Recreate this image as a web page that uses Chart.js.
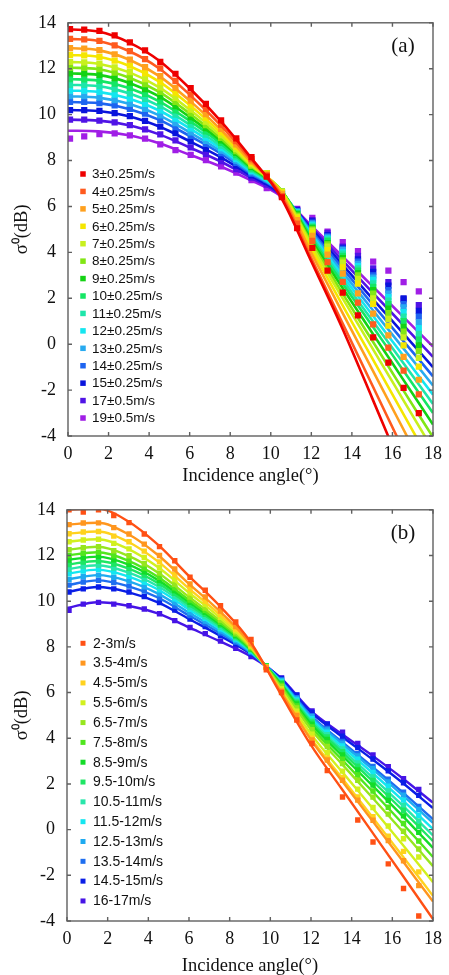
<!DOCTYPE html>
<html lang="en">
<head>
<meta charset="UTF-8">
<title>Sigma0 vs incidence angle</title>
<script src="https://cdn.jsdelivr.net/npm/chart.js"></script>
<style>
  body { margin: 0; background: #fff; }
  canvas { position: absolute; left: 0; }
  #chartA { top: 0; }
  #chartB { top: 487px; }
</style>
</head>
<body>
<canvas id="chartA" width="449" height="487"></canvas>
<canvas id="chartB" width="449" height="488"></canvas>
<script>
// incidence angles of the measured bins and of the fitted-curve knots
const obsAngles = [0.1, 0.8, 1.55, 2.3, 3.05, 3.8, 4.55, 5.3, 6.05, 6.8, 7.55, 8.3, 9.05, 9.8, 10.55, 11.3, 12.05, 12.8, 13.55, 14.3, 15.05, 15.8, 16.55, 17.3];
const fitAngles = [0, 1.5, 3, 4.5, 6, 7.5, 9, 10.5, 12, 13.5, 15, 16.5, 18];
const xTicks = [0, 2, 4, 6, 8, 10, 12, 14, 16, 18];
const yTicks = [-4, -2, 0, 2, 4, 6, 8, 10, 12, 14];

// panel (a)
const labelsA = ['3\u00b10.25m/s', '4\u00b10.25m/s', '5\u00b10.25m/s', '6\u00b10.25m/s', '7\u00b10.25m/s', '8\u00b10.25m/s', '9\u00b10.25m/s', '10\u00b10.25m/s', '11\u00b10.25m/s', '12\u00b10.25m/s', '13\u00b10.25m/s', '14\u00b10.25m/s', '15\u00b10.25m/s', '17\u00b10.5m/s', '19\u00b10.5m/s'];
const colorsA = ['#ee0000', '#ff5a1e', '#ffa01e', '#f5e600', '#c8f01e', '#82e614', '#14d214', '#14e664', '#1ee6aa', '#14e6f0', '#28aaf0', '#1e64f0', '#0a14dc', '#5014e6', '#a01ee6'];

const a3obs = [13.72, 13.7, 13.65, 13.45, 13.15, 12.8, 12.3, 11.78, 11.15, 10.47, 9.75, 8.97, 8.15, 7.3, 6.4, 5.05, 4.2, 3.2, 2.25, 1.25, 0.3, -0.8, -1.9, -3.0];
const a3fit = [13.72, 13.62, 13.15, 12.35, 11.15, 9.75, 8.15, 6.4, 3.6, 0.75, -2.35, -5.5, -8.6];
const a4obs = [13.3, 13.28, 13.21, 13.02, 12.77, 12.42, 12.01, 11.47, 10.87, 10.25, 9.56, 8.84, 8.06, 7.35, 6.45, 5.25, 4.5, 3.57, 2.71, 1.81, 0.86, -0.15, -1.15, -2.19];
const a4fit = [13.3, 13.21, 12.77, 12.01, 10.87, 9.56, 8.06, 6.5, 3.74, 0.98, -1.78, -4.54, -7.3];
const a5obs = [12.9, 12.88, 12.81, 12.63, 12.4, 12.07, 11.68, 11.17, 10.61, 10.02, 9.38, 8.7, 7.96, 7.4, 6.55, 5.4, 4.72, 3.9, 3.07, 2.21, 1.33, 0.38, -0.55, -1.55];
const a5fit = [12.9, 12.81, 12.4, 11.68, 10.61, 9.38, 7.96, 6.6, 3.98, 1.43, -1.1, -3.64, -6.2];
const a6obs = [12.6, 12.58, 12.52, 12.35, 12.13, 11.81, 11.44, 10.96, 10.42, 9.86, 9.24, 8.6, 7.9, 7.42, 6.6, 5.5, 4.85, 4.1, 3.35, 2.64, 1.75, 0.81, -0.05, -0.98];
const a6fit = [12.6, 12.52, 12.13, 11.44, 10.42, 9.24, 7.9, 6.65, 4.16, 1.76, -0.61, -2.98, -5.35];
const a7obs = [12.3, 12.28, 12.22, 12.06, 11.85, 11.55, 11.19, 10.73, 10.22, 9.69, 9.11, 8.5, 7.83, 7.45, 6.65, 5.55, 4.95, 4.25, 3.55, 2.85, 2.0, 1.1, 0.3, -0.6];
const a7fit = [12.3, 12.22, 11.85, 11.19, 10.22, 9.11, 7.83, 6.7, 4.32, 2.06, -0.16, -2.38, -4.6];
const a8obs = [12.05, 12.04, 11.98, 11.83, 11.62, 11.33, 10.99, 10.55, 10.05, 9.54, 8.99, 8.41, 7.77, 7.45, 6.65, 5.6, 5.0, 4.35, 3.65, 3.0, 2.2, 1.35, 0.55, -0.3];
const a8fit = [12.05, 11.98, 11.62, 10.99, 10.05, 8.99, 7.77, 6.72, 4.43, 2.27, 0.16, -1.96, -4.05];
const a9obs = [11.8, 11.79, 11.73, 11.59, 11.39, 11.11, 10.79, 10.37, 9.89, 9.41, 8.88, 8.33, 7.72, 7.42, 6.65, 5.65, 5.05, 4.4, 3.75, 3.1, 2.35, 1.55, 0.75, -0.05];
const a9fit = [11.8, 11.73, 11.39, 10.79, 9.89, 8.88, 7.72, 6.72, 4.54, 2.5, 0.5, -1.5, -3.5];
const a10obs = [11.55, 11.54, 11.48, 11.35, 11.16, 10.9, 10.58, 10.18, 9.73, 9.27, 8.77, 8.24, 7.66, 7.38, 6.62, 5.7, 5.1, 4.5, 3.85, 3.2, 2.5, 1.75, 1.0, 0.2];
const a10fit = [11.55, 11.48, 11.16, 10.58, 9.73, 8.77, 7.66, 6.7, 4.64, 2.7, 0.8, -1.1, -3.0];
const a11obs = [11.3, 11.3, 11.24, 11.11, 10.93, 10.68, 10.38, 10.0, 9.56, 9.13, 8.65, 8.15, 7.6, 7.33, 6.6, 5.72, 5.15, 4.55, 3.95, 3.3, 2.65, 1.9, 1.2, 0.45];
const a11fit = [11.3, 11.24, 10.93, 10.38, 9.56, 8.65, 7.6, 6.68, 4.71, 2.86, 1.04, -0.78, -2.6];
const a12obs = [11.05, 11.05, 10.99, 10.87, 10.7, 10.47, 10.18, 9.82, 9.4, 9.0, 8.54, 8.07, 7.55, 7.28, 6.6, 5.75, 5.2, 4.6, 4.0, 3.4, 2.8, 2.05, 1.4, 0.7];
const a12fit = [11.05, 10.99, 10.7, 10.18, 9.4, 8.54, 7.55, 6.65, 4.79, 3.02, 1.28, -0.46, -2.2];
const a13obs = [10.8, 10.8, 10.74, 10.63, 10.47, 10.25, 9.97, 9.63, 9.23, 8.86, 8.43, 7.99, 7.49, 7.22, 6.58, 5.78, 5.25, 4.65, 4.1, 3.5, 2.9, 2.2, 1.6, 0.95];
const a13fit = [10.8, 10.74, 10.47, 9.97, 9.23, 8.43, 7.49, 6.62, 4.86, 3.18, 1.52, -0.14, -1.8];
const a14obs = [10.55, 10.55, 10.5, 10.4, 10.25, 10.04, 9.77, 9.45, 9.07, 8.72, 8.32, 7.9, 7.43, 7.16, 6.55, 5.8, 5.3, 4.7, 4.15, 3.6, 3.0, 2.35, 1.75, 1.2];
const a14fit = [10.55, 10.5, 10.25, 9.77, 9.07, 8.32, 7.43, 6.6, 4.94, 3.34, 1.76, 0.18, -1.4];
const a15obs = [10.2, 10.2, 10.16, 10.07, 9.93, 9.73, 9.48, 9.19, 8.84, 8.52, 8.16, 7.78, 7.35, 7.08, 6.55, 5.83, 5.35, 4.75, 4.2, 3.7, 3.15, 2.55, 2.0, 1.45];
const a15fit = [10.2, 10.16, 9.93, 9.48, 8.84, 8.16, 7.35, 6.55, 5.02, 3.5, 2.0, 0.5, -1.0];
const a17obs = [9.78, 9.78, 9.74, 9.66, 9.54, 9.36, 9.14, 8.88, 8.57, 8.29, 7.97, 7.63, 7.26, 6.95, 6.5, 5.86, 5.4, 4.85, 4.25, 3.85, 3.3, 2.7, 1.95, 1.7];
const a17fit = [9.78, 9.74, 9.54, 9.14, 8.57, 7.97, 7.26, 6.5, 5.09, 3.68, 2.27, 0.86, -0.55];
const a19obs = [8.95, 9.05, 9.15, 9.18, 9.1, 8.95, 8.7, 8.45, 8.25, 8.02, 7.75, 7.47, 7.15, 6.8, 6.45, 5.9, 5.5, 4.9, 4.45, 4.05, 3.6, 3.2, 2.7, 2.3];
const a19fit = [9.3, 9.27, 9.1, 8.75, 8.25, 7.75, 7.15, 6.45, 5.16, 3.86, 2.54, 1.22, -0.1];

// panel (b)
const labelsB = ['2-3m/s', '3.5-4m/s', '4.5-5m/s', '5.5-6m/s', '6.5-7m/s', '7.5-8m/s', '8.5-9m/s', '9.5-10m/s', '10.5-11m/s', '11.5-12m/s', '12.5-13m/s', '13.5-14m/s', '14.5-15m/s', '16-17m/s'];
const colorsB = ['#ff5014', '#ff961e', '#ffd21e', '#d2f01e', '#96e61e', '#50e61e', '#14dc28', '#1ee664', '#28e6aa', '#14e6f0', '#1eaaf0', '#1e6ef0', '#0a1ee6', '#4614e6'];

const b1obs = [14.0, 13.9, 14.0, 13.75, 13.44, 12.94, 12.39, 11.77, 11.05, 10.48, 9.8, 9.09, 8.33, 7.0, 6.0, 4.8, 3.77, 2.58, 1.43, 0.42, -0.54, -1.5, -2.58, -3.78];
const b1fit = [14.0, 14.05, 13.5, 12.45, 11.1, 9.8, 8.25, 5.95, 3.7, 1.8, -0.1, -2.0, -3.92];
const b2obs = [13.35, 13.42, 13.43, 13.22, 12.94, 12.5, 12.0, 11.41, 10.76, 10.19, 9.57, 8.89, 8.15, 7.1, 6.06, 5.0, 3.93, 3.05, 2.16, 1.29, 0.41, -0.48, -1.36, -2.45];
const b2fit = [13.35, 13.43, 12.94, 12.0, 10.76, 9.57, 8.15, 6.06, 3.93, 2.16, 0.41, -1.36, -3.15];
const b3obs = [12.95, 13.03, 13.05, 12.85, 12.6, 12.19, 11.72, 11.16, 10.55, 10.01, 9.42, 8.78, 8.09, 7.09, 6.09, 5.05, 4.0, 3.14, 2.28, 1.43, 0.57, -0.29, -0.95, -1.85];
const b3fit = [12.95, 13.05, 12.6, 11.72, 10.55, 9.42, 8.09, 6.09, 4.0, 2.28, 0.57, -1.15, -2.9];
const b4obs = [12.6, 12.68, 12.71, 12.53, 12.29, 11.91, 11.47, 10.95, 10.37, 9.86, 9.29, 8.7, 8.04, 7.11, 6.17, 5.18, 4.18, 3.37, 2.56, 1.77, 0.97, 0.16, -0.4, -1.2];
const b4fit = [12.6, 12.71, 12.29, 11.47, 10.37, 9.29, 8.04, 6.17, 4.18, 2.56, 0.97, -0.65, -2.3];
const b5obs = [12.25, 12.34, 12.38, 12.21, 11.99, 11.64, 11.23, 10.74, 10.18, 9.7, 9.17, 8.61, 7.99, 7.13, 6.27, 5.33, 4.38, 3.64, 2.89, 2.16, 1.42, 0.68, -0.07, -0.85];
const b5fit = [12.25, 12.38, 11.99, 11.23, 10.18, 9.17, 7.99, 6.27, 4.38, 2.89, 1.42, -0.07, -1.6];
const b6obs = [12.0, 12.1, 12.14, 11.99, 11.78, 11.45, 11.05, 10.58, 10.05, 9.6, 9.08, 8.55, 7.95, 7.14, 6.32, 5.41, 4.5, 3.79, 3.08, 2.39, 1.69, 0.98, 0.27, -0.5];
const b6fit = [12.0, 12.14, 11.78, 11.05, 10.05, 9.08, 7.95, 6.32, 4.5, 3.08, 1.69, 0.27, -1.2];
const b7obs = [11.8, 11.9, 11.95, 11.81, 11.61, 11.29, 10.91, 10.46, 9.95, 9.51, 9.01, 8.5, 7.92, 7.15, 6.38, 5.5, 4.62, 3.95, 3.27, 2.61, 1.95, 1.28, 0.6, -0.12];
const b7fit = [11.8, 11.95, 11.61, 10.91, 9.95, 9.01, 7.92, 6.38, 4.62, 3.27, 1.95, 0.6, -0.8];
const b8obs = [11.6, 11.71, 11.76, 11.63, 11.44, 11.14, 10.78, 10.34, 9.84, 9.42, 8.94, 8.45, 7.89, 7.16, 6.42, 5.57, 4.71, 4.06, 3.41, 2.78, 2.15, 1.5, 0.85, 0.15];
const b8fit = [11.6, 11.76, 11.44, 10.78, 9.84, 8.94, 7.89, 6.42, 4.71, 3.41, 2.15, 0.85, -0.5];
const b9obs = [11.4, 11.52, 11.57, 11.45, 11.26, 10.98, 10.64, 10.22, 9.74, 9.33, 8.86, 8.39, 7.86, 7.16, 6.45, 5.62, 4.78, 4.16, 3.53, 2.92, 2.31, 1.69, 1.06, 0.38];
const b9fit = [11.4, 11.57, 11.26, 10.64, 9.74, 8.86, 7.86, 6.45, 4.78, 3.53, 2.31, 1.06, -0.25];
const b10obs = [11.2, 11.32, 11.38, 11.27, 11.09, 10.83, 10.5, 10.1, 9.64, 9.25, 8.79, 8.34, 7.83, 7.16, 6.49, 5.68, 4.86, 4.26, 3.66, 3.08, 2.5, 1.9, 1.29, 0.63];
const b10fit = [11.2, 11.38, 11.09, 10.5, 9.64, 8.79, 7.83, 6.49, 4.86, 3.66, 2.5, 1.29, 0.03];
const b11obs = [10.95, 11.08, 11.14, 11.04, 10.88, 10.63, 10.32, 9.94, 9.5, 9.13, 8.7, 8.28, 7.79, 7.16, 6.53, 5.74, 4.94, 4.36, 3.78, 3.23, 2.67, 2.09, 1.51, 0.88];
const b11fit = [10.95, 11.14, 10.88, 10.32, 9.5, 8.7, 7.79, 6.53, 4.94, 3.78, 2.67, 1.51, 0.3];
const b12obs = [10.7, 10.84, 10.91, 10.82, 10.66, 10.44, 10.15, 9.79, 9.37, 9.02, 8.61, 8.21, 7.75, 7.15, 6.55, 5.77, 4.99, 4.43, 3.86, 3.32, 2.77, 2.21, 1.64, 1.02];
const b12fit = [10.7, 10.91, 10.66, 10.15, 9.37, 8.61, 7.75, 6.55, 4.99, 3.86, 2.77, 1.64, 0.45];
const b13obs = [10.4, 10.54, 10.62, 10.54, 10.4, 10.2, 9.94, 9.61, 9.22, 8.89, 8.5, 8.13, 7.71, 7.17, 6.62, 5.88, 5.13, 4.61, 4.09, 3.59, 3.09, 2.57, 2.05, 1.5];
const b13fit = [10.4, 10.62, 10.4, 9.94, 9.22, 8.5, 7.71, 6.62, 5.13, 4.09, 3.09, 2.05, 0.94];
const b14obs = [9.6, 9.87, 9.95, 9.87, 9.8, 9.66, 9.45, 9.15, 8.85, 8.58, 8.25, 7.94, 7.58, 7.15, 6.64, 5.9, 5.2, 4.63, 4.27, 3.77, 3.27, 2.76, 2.23, 1.76];
const b14fit = [9.7, 9.95, 9.8, 9.45, 8.85, 8.25, 7.6, 6.65, 5.2, 4.2, 3.25, 2.25, 1.18];

const obsA = [a3obs, a4obs, a5obs, a6obs, a7obs, a8obs, a9obs, a10obs, a11obs, a12obs, a13obs, a14obs, a15obs, a17obs, a19obs];
const fitA = [a3fit, a4fit, a5fit, a6fit, a7fit, a8fit, a9fit, a10fit, a11fit, a12fit, a13fit, a14fit, a15fit, a17fit, a19fit];
const obsB = [b1obs, b2obs, b3obs, b4obs, b5obs, b6obs, b7obs, b8obs, b9obs, b10obs, b11obs, b12obs, b13obs, b14obs];
const fitB = [b1fit, b2fit, b3fit, b4fit, b5fit, b6fit, b7fit, b8fit, b9fit, b10fit, b11fit, b12fit, b13fit, b14fit];

const serif = '"Liberation Serif", "Times New Roman", serif';
const sans = '"Liberation Sans", Arial, sans-serif';

// frame with inward ticks, the key and the panel tag
const framePlugin = {
  id: 'frame',
  afterDatasetsDraw(chart, args, opts) {
    const { ctx, chartArea: a, scales } = chart;
    ctx.save();
    ctx.strokeStyle = '#606060';
    ctx.lineWidth = 1.4;
    ctx.strokeRect(a.left, a.top, a.right - a.left, a.bottom - a.top);
    ctx.beginPath();
    xTicks.forEach(v => {
      const px = scales.x.getPixelForValue(v);
      ctx.moveTo(px, a.bottom); ctx.lineTo(px, a.bottom - 4);
      ctx.moveTo(px, a.top); ctx.lineTo(px, a.top + 4);
    });
    yTicks.forEach(v => {
      const py = scales.y.getPixelForValue(v);
      ctx.moveTo(a.left, py); ctx.lineTo(a.left + 4, py);
      ctx.moveTo(a.right, py); ctx.lineTo(a.right - 4, py);
    });
    ctx.stroke();

    // key
    ctx.font = opts.keyFont;
    ctx.textBaseline = 'middle';
    ctx.textAlign = 'left';
    opts.labels.forEach((lab, i) => {
      const y = opts.keyY + i * opts.keyStep;
      ctx.fillStyle = opts.colors[i];
      ctx.fillRect(opts.keyX - opts.box / 2, y - opts.box / 2, opts.box, opts.box);
      ctx.fillStyle = '#111';
      ctx.fillText(lab, opts.textX, y + 0.5);
    });

    // panel tag
    ctx.font = '21px ' + serif;
    ctx.textAlign = 'center';
    ctx.textBaseline = 'middle';
    ctx.fillStyle = '#111';
    ctx.fillText(opts.tag, a.right - 30, a.top + 24);
    ctx.restore();
  }
};

function makeChart(id, obsList, fitList, colors, labels, cfg) {
  const datasets = [];
  obsList.forEach((obs, i) => {
    datasets.push({
      label: labels[i] + ' fit',
      data: fitAngles.map((x, k) => ({ x: x, y: fitList[i][k] })),
      showLine: true,
      borderColor: colors[i],
      borderWidth: cfg.lineW,
      pointRadius: 0,
      cubicInterpolationMode: 'monotone',
      fill: false
    });
    datasets.push({
      label: labels[i],
      data: obsAngles.map((x, k) => ({ x: x, y: obs[k] })),
      showLine: false,
      pointStyle: 'rect',
      pointRadius: cfg.pointR,
      pointBorderWidth: 0,
      backgroundColor: colors[i],
      borderColor: colors[i]
    });
  });

  return new Chart(document.getElementById(id), {
    type: 'scatter',
    data: { datasets: datasets },
    plugins: [framePlugin],
    options: {
      responsive: false,
      animation: false,
      devicePixelRatio: 1,
      events: [],
      layout: { padding: { top: cfg.padTop, right: cfg.padRight, left: 0, bottom: 0 } },
      plugins: {
        legend: { display: false },
        tooltip: { enabled: false },
        frame: {
          labels: labels, colors: colors, tag: cfg.tag,
          keyX: 83, keyY: cfg.keyY, keyStep: cfg.keyStep, textX: cfg.textX,
          box: cfg.box, keyFont: cfg.keyFont
        }
      },
      scales: {
        x: {
          min: 0, max: 18,
          afterBuildTicks: s => { s.ticks = xTicks.map(v => ({ value: v })); },
          afterFit: s => { s.height = cfg.xAxisH; },
          grid: { display: false, drawTicks: false },
          border: { display: false },
          ticks: { padding: 7, color: '#111', maxRotation: 0, font: { family: serif, size: 18 } },
          title: {
            display: true, text: 'Incidence angle(\u00b0)', color: '#111',
            font: { family: serif, size: 18.5, lineHeight: 1 },
            padding: { top: 0, bottom: cfg.xTitlePad }
          }
        },
        y: {
          min: -4, max: 14,
          afterBuildTicks: s => { s.ticks = yTicks.map(v => ({ value: v })); },
          afterFit: s => { s.width = cfg.yAxisW; },
          grid: { display: false, drawTicks: false },
          border: { display: false },
          ticks: { padding: 12, color: '#111', font: { family: serif, size: 18 } },
          title: {
            display: true, text: '\u03c3\u2070(dB)', color: '#111',
            font: { family: serif, size: 18.5, lineHeight: 1.2 },
            padding: { top: 11, bottom: 0 }
          }
        }
      }
    }
  });
}

makeChart('chartA', obsA, fitA, colorsA, labelsA, {
  tag: '(a)', lineW: 2.6, pointR: 4.4, padTop: 17, padRight: 9, xAxisH: 51, yAxisW: 68,
  xTitlePad: 1.8, keyY: 174, keyStep: 17.43, textX: 92, box: 5.5, keyFont: '13.5px ' + sans
});
makeChart('chartB', obsB, fitB, colorsB, labelsB, {
  tag: '(b)', lineW: 2.4, pointR: 3.8, padTop: 17, padRight: 14, xAxisH: 54, yAxisW: 67,
  xTitlePad: 0, keyY: 156.3, keyStep: 19.82, textX: 93, box: 5, keyFont: '14px ' + sans
});
</script>
</body>
</html>
